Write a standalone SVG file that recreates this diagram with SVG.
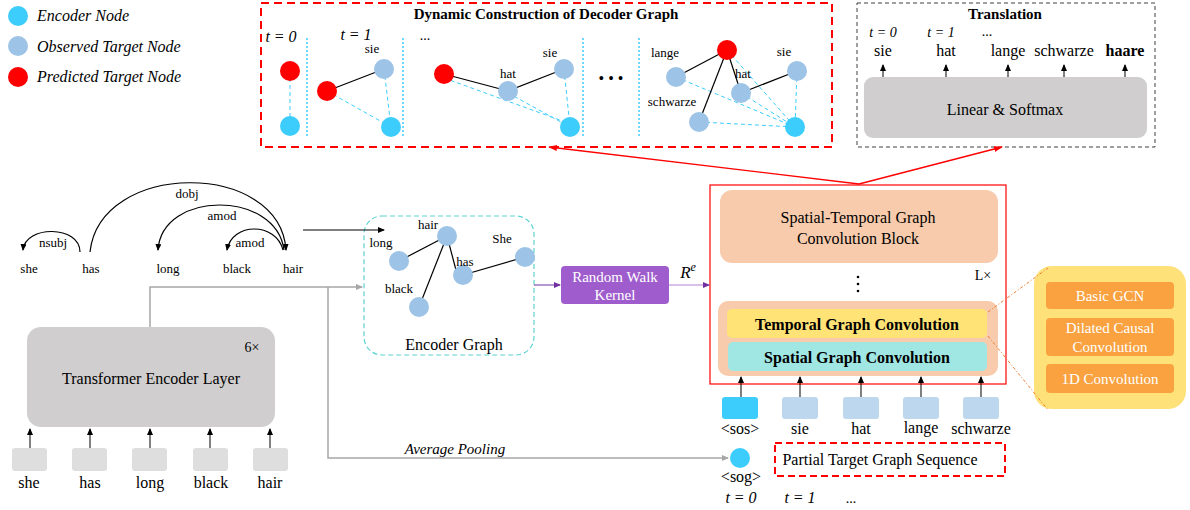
<svg xmlns="http://www.w3.org/2000/svg" width="1190" height="510" viewBox="0 0 1190 510" font-family="Liberation Serif, Tinos, DejaVu Serif, serif">
<defs>
<marker id="ab" markerWidth="8" markerHeight="8" refX="6" refY="3" orient="auto" markerUnits="userSpaceOnUse"><path d="M0,0 L7,3 L0,6 Z" fill="#000"/></marker>
<marker id="ag" markerWidth="8" markerHeight="8" refX="6" refY="3" orient="auto" markerUnits="userSpaceOnUse"><path d="M0,0 L7,3 L0,6 Z" fill="#a6a6a6"/></marker>
<marker id="ap" markerWidth="8" markerHeight="8" refX="6" refY="3" orient="auto" markerUnits="userSpaceOnUse"><path d="M0,0 L7,3 L0,6 Z" fill="#7030a0"/></marker>
<marker id="ar" markerWidth="10" markerHeight="8" refX="8" refY="3" orient="auto" markerUnits="userSpaceOnUse"><path d="M0,0 L9,3 L0,6 Z" fill="#ff0000"/></marker>
</defs>
<style>
text{fill:#000;font-family:"Liberation Serif","DejaVu Serif",serif;}
.t16{font-size:16px;text-anchor:middle;}
.t14{font-size:14px;text-anchor:middle;}
.t13{font-size:13px;text-anchor:middle;}
.it{font-style:italic;}
.b{font-weight:bold;}
.enc{fill:#3dcdfd;}
.obs{fill:#9dc3e6;}
.pred{fill:#ff0000;}
.el{stroke:#000;stroke-width:1.2;fill:none;}
.dl{stroke:#3dcdfd;stroke-width:1;stroke-dasharray:4 3;fill:none;}
.vl{stroke:#3dcdfd;stroke-width:1.5;stroke-dasharray:2 2;}
.arr{stroke:#000;stroke-width:1;marker-end:url(#ab);}
.tok{fill:#dedede;}
.ttok{fill:#bdd7ee;}
.wt{fill:#fff;font-size:15px;text-anchor:middle;}
</style>

<g id="legend">
<circle class="enc" cx="18" cy="16" r="10"/>
<circle class="obs" cx="18" cy="46" r="10"/>
<circle class="pred" cx="18" cy="77" r="10"/>
<text x="37" y="21" class="it" font-size="16">Encoder Node</text>
<text x="37" y="52" class="it" font-size="16">Observed Target Node</text>
<text x="37" y="82" class="it" font-size="16">Predicted Target Node</text>
</g>

<g id="decoder-graph">
<rect x="261" y="3" width="571" height="144" fill="none" stroke="#ff0000" stroke-width="2" stroke-dasharray="8 5"/>
<text x="546" y="19" class="b" font-size="15" text-anchor="middle">Dynamic Construction of Decoder Graph</text>
<text x="281" y="42" class="it t16">t = 0</text>
<text x="356" y="40" class="it t16">t = 1</text>
<text x="425" y="40" class="t14">...</text>
<line class="vl" x1="307" y1="38" x2="307" y2="137"/>
<line class="vl" x1="403" y1="38" x2="403" y2="137"/>
<line class="vl" x1="583" y1="38" x2="583" y2="137"/>
<line class="vl" x1="639" y1="38" x2="639" y2="137"/>
<line class="dl" x1="290" y1="71" x2="290" y2="126"/>
<circle class="pred" cx="290" cy="71" r="10"/>
<circle class="enc" cx="290" cy="126" r="10"/>
<line class="el" x1="327" y1="91" x2="384" y2="69"/>
<line class="dl" x1="327" y1="91" x2="391" y2="127"/>
<line class="dl" x1="384" y1="69" x2="391" y2="127"/>
<circle class="pred" cx="327" cy="91" r="10"/>
<circle class="obs" cx="384" cy="69" r="10"/>
<circle class="enc" cx="391" cy="127" r="10"/>
<text x="372" y="53" class="t13">sie</text>
<line class="el" x1="444" y1="74" x2="508" y2="91"/>
<line class="el" x1="508" y1="91" x2="564" y2="69"/>
<line class="dl" x1="444" y1="78" x2="568" y2="123"/>
<line class="dl" x1="508" y1="93" x2="570" y2="127"/>
<line class="dl" x1="564" y1="69" x2="570" y2="127"/>
<circle class="pred" cx="444" cy="74" r="10"/>
<circle class="obs" cx="508" cy="91" r="10"/>
<circle class="obs" cx="564" cy="69" r="10"/>
<circle class="enc" cx="570" cy="127" r="10"/>
<text x="508" y="78" class="t13">hat</text>
<text x="550" y="57" class="t13">sie</text>
<text x="611" y="84" font-size="16" text-anchor="middle">• • •</text>
<line class="dl" x1="727" y1="50" x2="795" y2="127"/>
<line class="dl" x1="676" y1="77" x2="795" y2="127"/>
<line class="dl" x1="741" y1="93" x2="795" y2="127"/>
<line class="dl" x1="699" y1="122" x2="795" y2="127"/>
<line class="dl" x1="797" y1="71" x2="795" y2="127"/>
<line class="el" x1="727" y1="50" x2="676" y2="77"/>
<line class="el" x1="727" y1="50" x2="741" y2="93"/>
<line class="el" x1="727" y1="50" x2="699" y2="122"/>
<line class="el" x1="741" y1="93" x2="797" y2="71"/>
<circle class="pred" cx="727" cy="50" r="10"/>
<circle class="obs" cx="676" cy="77" r="10"/>
<circle class="obs" cx="741" cy="93" r="10"/>
<circle class="obs" cx="797" cy="71" r="10"/>
<circle class="obs" cx="699" cy="122" r="10"/>
<circle class="enc" cx="795" cy="127" r="10"/>
<text x="665" y="57" class="t13">lange</text>
<text x="743" y="78" class="t13">hat</text>
<text x="784" y="56" class="t13">sie</text>
<text x="672" y="106" class="t13">schwarze</text>
</g>

<g id="translation">
<rect x="857" y="3" width="298" height="144" fill="none" stroke="#404040" stroke-width="1" stroke-dasharray="4 3"/>
<text x="1005" y="19" class="b" font-size="15" text-anchor="middle">Translation</text>
<text x="883" y="37" class="it t14">t = 0</text>
<text x="941" y="37" class="it t14">t = 1</text>
<text x="987" y="36" class="t14">...</text>
<text x="883" y="56" class="t16">sie</text>
<text x="946" y="56" class="t16">hat</text>
<text x="1008" y="56" class="t16">lange</text>
<text x="1064" y="56" class="t16">schwarze</text>
<text x="1125" y="56" class="t16 b">haare</text>
<rect x="864" y="77" width="283" height="61" rx="9" fill="#d0cece"/>
<text x="1005" y="115" class="t16">Linear &amp; Softmax</text>
<line class="arr" x1="883" y1="77" x2="883" y2="65"/>
<line class="arr" x1="946" y1="77" x2="946" y2="65"/>
<line class="arr" x1="1008" y1="77" x2="1008" y2="65"/>
<line class="arr" x1="1064" y1="77" x2="1064" y2="65"/>
<line class="arr" x1="1125" y1="77" x2="1125" y2="65"/>
</g>

<g id="dependency-parse">
<text x="29" y="273" class="t13">she</text>
<text x="91" y="273" class="t13">has</text>
<text x="168" y="273" class="t13">long</text>
<text x="237" y="273" class="t13">black</text>
<text x="293" y="273" class="t13">hair</text>
<path class="el" d="M80,252 C80,225 25,225 23,250" stroke-width="0.9" marker-end="url(#ab)"/>
<path class="el" d="M90,252 C100,160 280,160 286,250" stroke-width="0.9" marker-end="url(#ab)"/>
<path class="el" d="M284,250 C276,190 162,190 158,250" stroke-width="0.9" marker-end="url(#ab)"/>
<path class="el" d="M283,250 C276,222 232,222 227,250" stroke-width="0.9" marker-end="url(#ab)"/>
<text x="53" y="247" class="t13">nsubj</text>
<text x="187" y="198" class="t13">dobj</text>
<text x="222" y="220" class="t13">amod</text>
<text x="250" y="247" class="t13">amod</text>
</g>

<g id="encoder-graph">
<rect x="364" y="216" width="170" height="139" rx="18" fill="none" stroke="#5fd3d3" stroke-width="1.2" stroke-dasharray="5 3"/>
<line class="el" x1="399" y1="261" x2="447" y2="236"/>
<line class="el" x1="447" y1="236" x2="419" y2="307"/>
<line class="el" x1="447" y1="236" x2="456" y2="270"/>
<line class="el" x1="463" y1="275" x2="525" y2="257"/>
<circle class="obs" cx="447" cy="236" r="10"/>
<circle class="obs" cx="399" cy="261" r="10"/>
<circle class="obs" cx="463" cy="275" r="10"/>
<circle class="obs" cx="525" cy="257" r="10"/>
<circle class="obs" cx="419" cy="307" r="10"/>
<text x="428" y="229" class="t13">hair</text>
<text x="381" y="247" class="t13">long</text>
<text x="465" y="266" class="t13">has</text>
<text x="502" y="243" class="t13">She</text>
<text x="399" y="293" class="t13">black</text>
<text x="454" y="350" class="t16">Encoder Graph</text>
</g>

<g id="random-walk">
<rect x="561" y="266" width="108" height="38" rx="4" fill="#9e5ccc"/>
<text x="615" y="282" class="wt">Random Walk</text>
<text x="615" y="300" class="wt">Kernel</text>
<text x="688" y="278" class="it" font-size="17" text-anchor="middle">R<tspan font-size="12" dy="-7">e</tspan></text>
</g>

<g id="transformer">
<rect x="27" y="327" width="248" height="100" rx="14" fill="#d0cece"/>
<text x="151" y="384" class="t16">Transformer Encoder Layer</text>
<text x="252" y="352" class="t14">6×</text>
<rect class="tok" x="12" y="448" width="35" height="23" rx="3"/>
<rect class="tok" x="72" y="448" width="35" height="23" rx="3"/>
<rect class="tok" x="132" y="448" width="35" height="23" rx="3"/>
<rect class="tok" x="193" y="448" width="35" height="23" rx="3"/>
<rect class="tok" x="253" y="448" width="35" height="23" rx="3"/>
<text x="29" y="488" class="t16">she</text>
<text x="90" y="488" class="t16">has</text>
<text x="150" y="488" class="t16">long</text>
<text x="211" y="488" class="t16">black</text>
<text x="270" y="488" class="t16">hair</text>
<line class="arr" x1="30" y1="448" x2="30" y2="429"/>
<line class="arr" x1="90" y1="448" x2="90" y2="429"/>
<line class="arr" x1="150" y1="448" x2="150" y2="429"/>
<line class="arr" x1="210" y1="448" x2="210" y2="429"/>
<line class="arr" x1="270" y1="448" x2="270" y2="429"/>
</g>

<g id="st-block">
<rect x="710" y="185" width="296" height="199" fill="none" stroke="#ff0000" stroke-width="1.2"/>
<rect x="720" y="190" width="278" height="73" rx="12" fill="#f8cbad"/>
<text x="858" y="223" class="t16">Spatial-Temporal Graph</text>
<text x="858" y="244" class="t16">Convolution Block</text>
<text x="983" y="280" class="t14">L×</text>
<circle cx="858" cy="277" r="1.3" fill="#000"/>
<circle cx="858" cy="284" r="1.3" fill="#000"/>
<circle cx="858" cy="291" r="1.3" fill="#000"/>
<rect x="718" y="301" width="280" height="75" rx="10" fill="#f8cbad"/>
<rect x="727" y="309" width="260" height="29" rx="5" fill="#ffe377"/>
<text x="857" y="330" class="t16 b">Temporal Graph Convolution</text>
<rect x="728" y="342" width="259" height="29" rx="5" fill="#a0e7e4"/>
<text x="857" y="363" class="t16 b">Spatial Graph Convolution</text>
</g>

<g id="target-tokens">
<rect x="722" y="397" width="36" height="22" rx="3" fill="#3dcdfd"/>
<rect class="ttok" x="782" y="397" width="36" height="22" rx="3"/>
<rect class="ttok" x="843" y="397" width="36" height="22" rx="3"/>
<rect class="ttok" x="903" y="397" width="36" height="22" rx="3"/>
<rect class="ttok" x="963" y="397" width="36" height="22" rx="3"/>
<text x="740" y="434" class="t16">&lt;sos&gt;</text>
<text x="800" y="434" class="t16">sie</text>
<text x="861" y="434" class="t16">hat</text>
<text x="921" y="433" class="t16">lange</text>
<text x="981" y="434" class="t16">schwarze</text>
<line class="arr" x1="741" y1="397" x2="741" y2="377"/>
<line class="arr" x1="800" y1="397" x2="800" y2="377"/>
<line class="arr" x1="861" y1="397" x2="861" y2="377"/>
<line class="arr" x1="921" y1="397" x2="921" y2="377"/>
<line class="arr" x1="981" y1="397" x2="981" y2="377"/>
</g>

<g id="gcn-detail">
<rect x="1034" y="266" width="152" height="143" rx="18" fill="#ffe17a"/>
<rect x="1046" y="282" width="128" height="27" rx="4" fill="#f9a23f"/>
<text x="1110" y="301" class="wt">Basic GCN</text>
<rect x="1046" y="318" width="128" height="38" rx="4" fill="#f9a23f"/>
<text x="1110" y="333" class="wt">Dilated Causal</text>
<text x="1110" y="352" class="wt">Convolution</text>
<rect x="1046" y="364" width="128" height="29" rx="4" fill="#f9a23f"/>
<text x="1110" y="384" class="wt">1D Convolution</text>
</g>

<g id="sog">
<circle cx="740" cy="458" r="10" fill="#3dcdfd"/>
<text x="741" y="482" class="t16">&lt;sog&gt;</text>
<text x="741" y="503" class="it t16">t = 0</text>
<text x="800" y="503" class="it t16">t = 1</text>
<text x="851" y="503" class="t14">...</text>
</g>

<g id="partial-seq">
<rect x="775" y="443" width="230" height="33" fill="none" stroke="#ff0000" stroke-width="2" stroke-dasharray="7 4"/>
<text x="880" y="465" class="t16">Partial Target Graph Sequence</text>
</g>

<g id="connectors">
<line x1="859" y1="184" x2="549" y2="147" stroke="#ff0000" stroke-width="1.3" marker-end="url(#ar)"/>
<line x1="859" y1="184" x2="1002" y2="147" stroke="#ff0000" stroke-width="1.3" marker-end="url(#ar)"/>
<line x1="303" y1="230" x2="384" y2="230" stroke="#000" stroke-width="1" marker-end="url(#ab)"/>
<polyline points="150,327 150,287 362,287" fill="none" stroke="#a6a6a6" stroke-width="1.5" marker-end="url(#ag)"/>
<polyline points="328,287 328,458 728,458" fill="none" stroke="#a6a6a6" stroke-width="1.5" marker-end="url(#ag)"/>
<text x="455" y="454" class="it" font-size="15" text-anchor="middle">Average Pooling</text>
<line x1="534" y1="285" x2="560" y2="285" stroke="#7030a0" stroke-width="1" marker-end="url(#ap)"/>
<line x1="669" y1="285" x2="709" y2="285" stroke="#b580d6" stroke-width="1" marker-end="url(#ap)"/>
<line x1="988" y1="312" x2="1048" y2="268" stroke="#ee7d31" stroke-width="1" stroke-dasharray="3 2 1 2"/>
<line x1="988" y1="336" x2="1048" y2="410" stroke="#ee7d31" stroke-width="1" stroke-dasharray="3 2 1 2"/>
</g>
</svg>
